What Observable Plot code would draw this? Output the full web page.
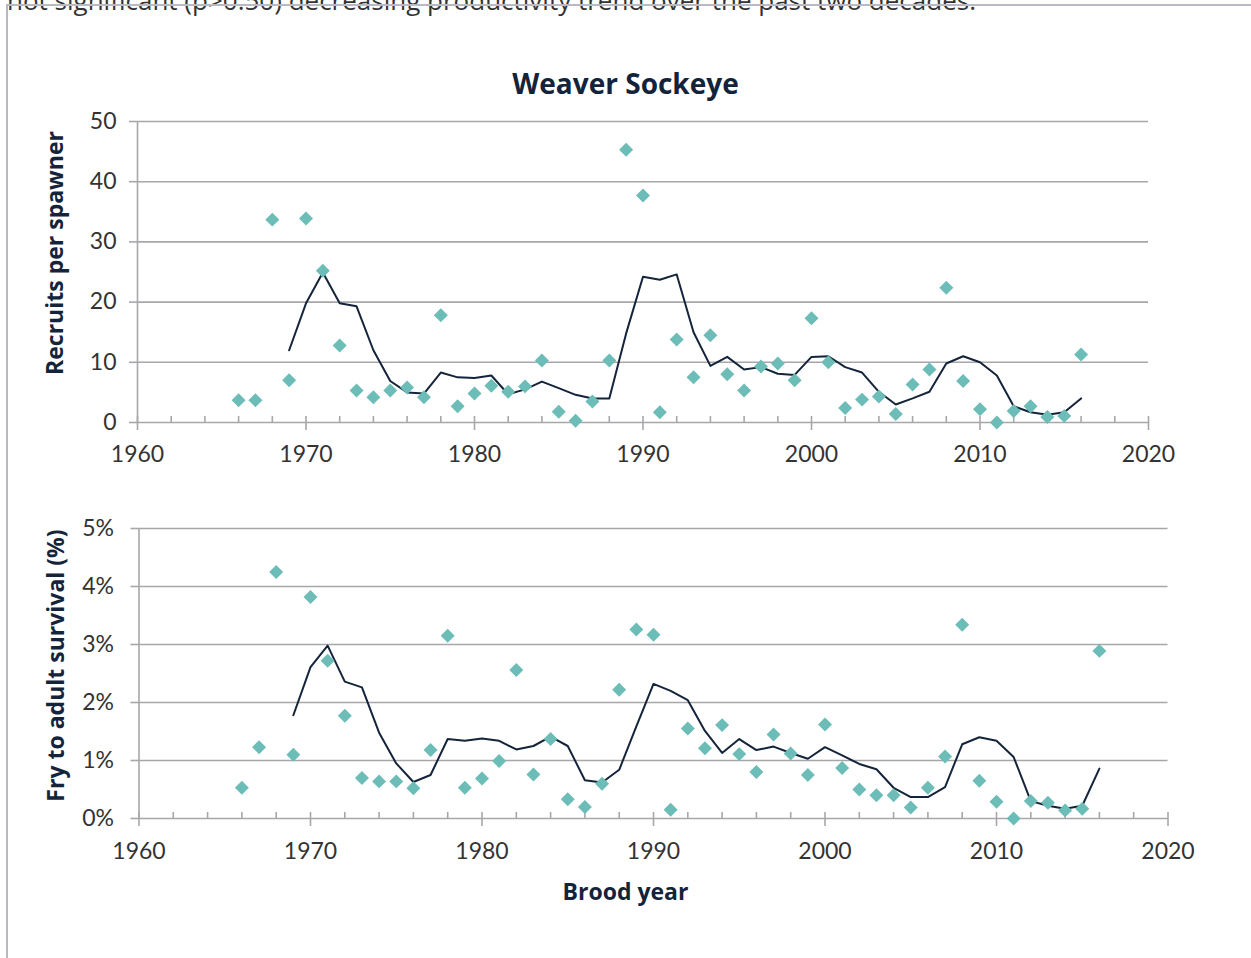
<!DOCTYPE html>
<html>
<head>
<meta charset="utf-8">
<script src="https://cdn.jsdelivr.net/npm/d3@7"></script>
<script src="https://cdn.jsdelivr.net/npm/@observablehq/plot@0.6"></script>
<style>
  html, body { margin: 0; padding: 0; background: #fff; }
  body { width: 1251px; height: 958px; position: relative; overflow: hidden; font-family: Lato, "Open Sans", sans-serif; }
  .abs { position: absolute; }
  #intro { left: 7px; top: -13px; font-family: "Open Sans", sans-serif; font-size: 26px; line-height: 26px; color: #333; white-space: nowrap; }
  #hline { left: 6px; top: 4px; width: 1245px; height: 2px; background: #b9b9c3; }
  #vline { left: 6px; top: 4px; width: 2px; height: 954px; background: #b9b9c3; }
  #title { left: 0; width: 1251px; top: 64px; text-align: center; font-family: "Open Sans", sans-serif; font-size: 28px; font-weight: 700; color: #13233a; }
  #xtitle { left: 0; width: 1251px; top: 875px; text-align: center; font-family: "Open Sans", sans-serif; font-size: 23px; font-weight: 700; color: #13233a; }
  #top { left: 0; top: 100px; }
  #bottom { left: 0; top: 500px; }
</style>
</head>
<body>
<div id="intro" class="abs">not significant (p&gt;0.50) decreasing productivity trend over the past two decades.</div>
<div id="hline" class="abs"></div>
<div id="vline" class="abs"></div>
<div id="title" class="abs">Weaver Sockeye</div>
<div id="top" class="abs"></div>
<div id="bottom" class="abs"></div>
<div id="xtitle" class="abs">Brood year</div>
<script>
// ---- data ----
const years = [1966,1967,1968,1969,1970,1971,1972,1973,1974,1975,
  1976,1977,1978,1979,1980,1981,1982,1983,1984,1985,
  1986,1987,1988,1989,1990,1991,1992,1993,1994,1995,
  1996,1997,1998,1999,2000,2001,2002,2003,2004,2005,
  2006,2007,2008,2009,2010,2011,2012,2013,2014,2015,2016];
const recruitsPerSpawner = [3.7,3.7,33.7,7.0,33.9,25.2,12.8,5.3,4.2,5.3,
  5.8,4.2,17.8,2.7,4.8,6.1,5.1,6.0,10.3,1.8,
  0.3,3.5,10.3,45.3,37.7,1.7,13.8,7.5,14.5,8.0,
  5.3,9.3,9.8,7.0,17.3,10.0,2.4,3.8,4.3,1.4,
  6.3,8.8,22.4,6.9,2.2,0.0,1.9,2.7,0.9,1.1,11.3];
const survivalPct = [0.53,1.23,4.25,1.10,3.82,2.72,1.77,0.70,0.64,0.64,
  0.52,1.18,3.15,0.53,0.69,0.99,2.56,0.76,1.37,0.33,
  0.20,0.60,2.22,3.26,3.17,0.15,1.55,1.21,1.61,1.11,
  0.80,1.45,1.12,0.75,1.62,0.87,0.50,0.40,0.40,0.19,
  0.53,1.07,3.34,0.65,0.29,0.00,0.30,0.27,0.14,0.17,2.89];
const avgYears = [1969,1970,1971,1972,1973,1974,1975,1976,1977,1978,
  1979,1980,1981,1982,1983,1984,1985,1986,1987,1988,
  1989,1990,1991,1992,1993,1994,1995,1996,1997,1998,
  1999,2000,2001,2002,2003,2004,2005,2006,2007,2008,
  2009,2010,2011,2012,2013,2014,2015,2016];
const recruitsAvg = [12.0,19.8,24.9,19.8,19.3,12.0,6.9,5.0,4.8,8.3,
  7.5,7.4,7.8,4.7,5.5,6.8,5.7,4.6,4.0,4.0,
  14.8,24.2,23.7,24.6,15.0,9.4,10.9,8.8,9.2,8.1,
  7.9,10.9,11.0,9.2,8.3,5.1,3.0,4.0,5.1,9.8,
  11.0,10.0,7.8,2.7,1.7,1.3,1.7,4.0];
const survivalAvg = [1.78,2.61,2.98,2.36,2.26,1.48,0.95,0.63,0.75,1.37,
  1.34,1.38,1.34,1.19,1.25,1.41,1.25,0.66,0.62,0.84,
  1.59,2.32,2.20,2.04,1.51,1.13,1.37,1.18,1.24,1.13,
  1.03,1.23,1.09,0.94,0.85,0.53,0.37,0.37,0.54,1.28,
  1.40,1.34,1.06,0.30,0.22,0.17,0.22,0.86];
const xMajorTicks = [1960,1970,1980,1990,2000,2010,2020];
const xMinorTicks = [1960,1962,1964,1966,1968,1970,1972,1974,1976,1978,1980,1982,1984,1986,1988,1990,
  1992,1994,1996,1998,2000,2002,2004,2006,2008,2010,2012,2014,2016,2018,2020];
const yTicksTop = [0,10,20,30,40,50];
const yTicksBottom = [0,1,2,3,4,5];
const yTitleTop = "Recruits per spawner";
const yTitleBottom = "Fry to adult survival (%)";

// ---- styles ----
const GRID = "#a7a7ab";
const TEAL = "#6cbcb7";
const NAVY = "#14243a";
const LABEL = "#333333";

const pts = (xs, ys) => xs.map((x, i) => ({x, y: ys[i]}));

function panel({data, avg, yDomain, yTicks, fmt, title, mL, mR, mT, mB, h, titleDy, padX, padY}) {
  const frameH = h - mT - mB;
  return Plot.plot({
    width: 1251,
    height: h,
    marginLeft: mL,
    marginRight: mR,
    marginTop: mT,
    marginBottom: mB,
    style: {fontFamily: "Lato, 'Open Sans', sans-serif", fontSize: "23px", color: LABEL, background: "transparent", overflow: "visible"},
    x: {domain: [1960, 2020]},
    y: {domain: yDomain},
    marks: [
      Plot.gridY(yTicks, {stroke: GRID, strokeOpacity: 1, strokeWidth: 1.6}),
      Plot.ruleX([1960], {stroke: GRID, strokeWidth: 1.6}),
      Plot.ruleX(xMinorTicks, {stroke: GRID, strokeWidth: 1.6, insetTop: frameH - 6}),
      Plot.axisX({ticks: xMajorTicks, tickSize: 8, tickPadding: padX, tickFormat: d => String(d), stroke: GRID, strokeWidth: 1.6, fill: LABEL, fontSize: 23, label: null}),
      Plot.axisY({ticks: yTicks, tickSize: 8, tickPadding: padY, tickFormat: fmt, stroke: GRID, strokeWidth: 1.6, fill: LABEL, fontSize: 23, label: null}),
      Plot.text([title], {frameAnchor: "left", textAnchor: "middle", text: d => d, rotate: -90, dx: -82, dy: titleDy, fontFamily: "'Open Sans', sans-serif", fontSize: 23, fontWeight: 700, fill: NAVY}),
      Plot.line(avg, {x: "x", y: "y", stroke: NAVY, strokeWidth: 2}),
      Plot.dot(data, {x: "x", y: "y", symbol: "diamond2", r: 6.3, fill: TEAL, stroke: "none"})
    ]
  });
}

document.getElementById("top").append(panel({
  data: pts(years, recruitsPerSpawner),
  avg: pts(avgYears, recruitsAvg),
  yDomain: [0, 50], yTicks: yTicksTop, fmt: d => String(d), title: yTitleTop,
  mL: 137, mR: 103, mT: 21, mB: 48, h: 370, titleDy: -19, padX: 15, padY: 13
}));

document.getElementById("bottom").append(panel({
  data: pts(years, survivalPct),
  avg: pts(avgYears, survivalAvg),
  yDomain: [0, 5], yTicks: yTicksBottom, fmt: d => d + "%", title: yTitleBottom,
  mL: 138.5, mR: 83.5, mT: 28, mB: 52, h: 370, titleDy: -8, padX: 16, padY: 17
}));
</script>
</body>
</html>
